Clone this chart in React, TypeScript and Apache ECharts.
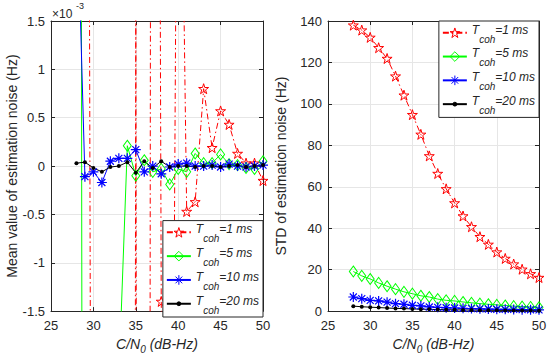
import React, { useEffect, useRef } from 'react';
import * as echarts from 'echarts';

// C/N0 (dB-Hz)
const cn0 = [28, 29, 30, 31, 32, 33, 34, 35, 36, 37, 38, 39, 40, 41, 42, 43, 44, 45, 46, 47, 48, 49, 50];

// Mean value of estimation noise, in units of 1e-3 Hz
const mean1ms = [25, 20, -14, -20, -18, -22, -60, 1.6, -60, 25, -1.4, -9.15, 6.1, -0.47, -0.37, 0.8, 0.19, 0.57, 0.43, 0.13, 0.03, 0.03, -0.15];
const mean5ms = [40, -25, -30, -28, -20, -2.2, 0.21, -0.1, 0.06, -0.06, -0.03, -0.19, -0.03, -0.06, 0.13, 0.03, 0.03, 0.12, 0.02, 0.01, -0.02, -0.03, 0.05];
const mean10ms = [3.0, -0.11, -0.06, -0.17, 0.05, 0.08, 0.08, 0.17, -0.06, 0.0, -0.08, -0.01, 0.02, 0.03, 0.0, 0.0, 0.01, -0.01, 0.02, 0.0, -0.01, 0.0, 0.01];
const mean20ms = [0.03, 0.04, -0.02, -0.06, -0.01, 0.0, 0.04, -0.07, 0.05, -0.02, 0.05, -0.01, 0.0, 0.0, -0.01, 0.0, 0.0, -0.01, 0.0, 0.01, -0.01, 0.0, 0.01];

// STD of estimation noise (Hz)
const std1ms = [138, 135.6, 132.1, 127.1, 121.9, 113.4, 104.2, 94.8, 85.3, 74.9, 66.4, 59.0, 52.2, 45.9, 40.7, 35.9, 32.2, 28.5, 25.4, 22.7, 20.2, 18.0, 16.2];
const std5ms = [19.1, 17.0, 15.5, 13.6, 12.0, 10.6, 9.3, 8.4, 7.4, 6.8, 5.8, 5.2, 4.9, 4.4, 4.0, 3.6, 3.3, 3.0, 2.7, 2.4, 2.2, 2.0, 1.8];
const std10ms = [6.8, 6.0, 5.2, 4.9, 4.3, 3.6, 3.3, 2.8, 2.5, 2.0, 1.8, 1.6, 1.5, 1.35, 1.2, 1.1, 1.0, 0.9, 0.85, 0.8, 0.7, 0.65, 0.6];
const std20ms = [2.4, 2.1, 1.9, 1.7, 1.5, 1.3, 1.2, 1.05, 0.95, 0.85, 0.75, 0.68, 0.6, 0.55, 0.5, 0.45, 0.4, 0.36, 0.33, 0.3, 0.27, 0.25, 0.22];

const seriesNames = ['1 ms', '5 ms', '10 ms', '20 ms'];

const FONT = '"Liberation Sans", Arial, sans-serif';
const AXIS_COLOR = '#262626';
const GRID_COLOR = '#e6e6e6';

const STAR = 'path://M0,-1L0.2245,-0.309L0.951,-0.309L0.363,0.118L0.588,0.809L0,0.382L-0.588,0.809L-0.363,0.118L-0.951,-0.309L-0.2245,-0.309Z';
const ASTER = 'path://M0,-1L0,1M-1,0L1,0M-0.7,-0.7L0.7,0.7M-0.7,0.7L0.7,-0.7';
const DOT = 'path://M0,-1A1,1,0,1,1,0,1A1,1,0,1,1,0,-1ZM-2.5,-2.5L-2.5,-2.5M2.5,2.5L2.5,2.5';

const styles = [
  {
    symbol: STAR, symbolSize: 10,
    lineStyle: { color: '#ff0000', width: 1, type: [6, 3, 1.5, 3] },
    itemStyle: { color: 'rgba(255,0,0,0)', borderColor: '#ff0000', borderWidth: 1 },
  },
  {
    symbol: 'diamond', symbolSize: [8, 11],
    lineStyle: { color: '#00ff00', width: 1, type: 'solid' },
    itemStyle: { color: 'rgba(0,255,0,0)', borderColor: '#00ff00', borderWidth: 1 },
  },
  {
    symbol: ASTER, symbolSize: 10,
    lineStyle: { color: '#0000ff', width: 1, type: 'solid' },
    itemStyle: { color: '#0000ff', borderColor: '#0000ff', borderWidth: 1.2 },
  },
  {
    symbol: DOT, symbolSize: 10,
    lineStyle: { color: '#000000', width: 1, type: 'solid' },
    itemStyle: { color: '#000000', borderColor: '#000000', borderWidth: 0 },
  },
];

function makeSeries(values: number[][], axisIndex: number) {
  return values.map((arr, k) => ({
    type: 'line',
    name: seriesNames[k],
    xAxisIndex: axisIndex,
    yAxisIndex: axisIndex,
    data: cn0.map((x, i) => [x, arr[i]]),
    clip: true,
    showSymbol: true,
    showAllSymbol: true,
    ...styles[k],
    emphasis: { disabled: true },
  }));
}

function xAxisDef(gridIndex: number, main: boolean) {
  return {
    type: 'value',
    gridIndex,
    position: main ? 'bottom' : 'top',
    min: 25,
    max: 50,
    interval: 5,
    axisLine: { show: true, onZero: false, lineStyle: { color: AXIS_COLOR, width: 1 } },
    axisTick: { show: true, inside: true, length: 4, lineStyle: { color: AXIS_COLOR } },
    axisLabel: {
      show: main, fontSize: 13, color: AXIS_COLOR, fontFamily: FONT, margin: 8,
      showMinLabel: true, showMaxLabel: true,
    },
    splitLine: { show: main, lineStyle: { color: GRID_COLOR, width: 1 } },
    name: main ? '{i|C/N}{sub|0}{i| (dB-Hz)}' : '',
    nameLocation: 'middle',
    nameGap: 20,
    nameTextStyle: {
      fontFamily: FONT, fontSize: 14, fontStyle: 'italic', color: AXIS_COLOR,
      rich: {
        i: { fontFamily: FONT, fontSize: 14, fontStyle: 'italic', color: AXIS_COLOR, verticalAlign: 'top' },
        sub: { fontFamily: FONT, fontSize: 10, fontStyle: 'italic', color: AXIS_COLOR, verticalAlign: 'top', padding: [7, 0, 0, 0] },
      },
    },
  };
}

function yAxisDef(gridIndex: number, main: boolean, min: number, max: number, interval: number, name: string, gap: number) {
  return {
    type: 'value',
    gridIndex,
    position: main ? 'left' : 'right',
    min,
    max,
    interval,
    axisLine: { show: true, onZero: false, lineStyle: { color: AXIS_COLOR, width: 1 } },
    axisTick: { show: true, inside: true, length: 4, lineStyle: { color: AXIS_COLOR } },
    axisLabel: {
      show: main, fontSize: 13, color: AXIS_COLOR, fontFamily: FONT, margin: 6,
      showMinLabel: true, showMaxLabel: true,
    },
    splitLine: { show: main, lineStyle: { color: GRID_COLOR, width: 1 } },
    name: main ? name : '',
    nameLocation: 'middle',
    nameGap: gap,
    nameTextStyle: { fontFamily: FONT, fontSize: 14, color: AXIS_COLOR },
  };
}

const legendBase = {
  orient: 'vertical',
  data: seriesNames,
  itemWidth: 24,
  itemHeight: 12,
  itemGap: 3.3,
  itemStyle: { borderWidth: 1 },
  backgroundColor: '#ffffff',
  borderColor: AXIS_COLOR,
  borderWidth: 1,
  borderRadius: 0,
  padding: [2.5, 4, 2, 3],
  selectedMode: false,
  formatter: (n: string) => `{t|T}{s|coh}{t|=${n}}`,
  textStyle: {
    fontFamily: FONT,
    color: AXIS_COLOR,
    rich: {
      t: { fontFamily: FONT, fontSize: 12, fontStyle: 'italic', color: AXIS_COLOR, verticalAlign: 'top', padding: [2, 0, 0, 0] },
      s: { fontFamily: FONT, fontSize: 10, fontStyle: 'italic', color: AXIS_COLOR, verticalAlign: 'top', padding: [12.5, 0, 0, 0] },
    },
  },
};

export default function App() {
  const ref = useRef<HTMLDivElement>(null);
  useEffect(() => {
    if (!ref.current) return;
    const chart = echarts.init(ref.current, null, { renderer: 'svg' });
    const option: any = {
      animation: false,
      backgroundColor: '#ffffff',
      grid: [
        { left: 51, top: 21, width: 212, height: 296, containLabel: false },
        { left: 328, top: 21, width: 211, height: 296, containLabel: false },
      ],
      xAxis: [xAxisDef(0, true), xAxisDef(0, false), xAxisDef(1, true), xAxisDef(1, false)],
      yAxis: [
        yAxisDef(0, true, -1.5, 1.5, 0.5, 'Mean value of estimation noise (Hz)', 24),
        yAxisDef(0, false, -1.5, 1.5, 0.5, '', 0),
        yAxisDef(1, true, 0, 140, 20, 'STD of estimation noise (Hz)', 40),
        yAxisDef(1, false, 0, 140, 20, '', 0),
      ],
      legend: [
        { ...legendBase, right: 287, bottom: 42 },
        { ...legendBase, right: 11, top: 21 },
      ],
      graphic: [
        { type: 'text', x: 52, y: 13.5, style: { text: '×10', fontSize: 12, fontFamily: FONT, fill: AXIS_COLOR, verticalAlign: 'middle' } },
        { type: 'text', x: 76, y: 6, style: { text: '-3', fontSize: 9, fontFamily: FONT, fill: AXIS_COLOR, verticalAlign: 'middle' } },
      ],
      series: [
        ...makeSeries([mean1ms, mean5ms, mean10ms, mean20ms], 0),
        ...makeSeries([std1ms, std5ms, std10ms, std20ms], 2),
      ],
    };
    chart.setOption(option);
    return () => chart.dispose();
  }, []);
  return <div ref={ref} style={{ position: 'fixed', left: 0, top: 0, width: 550, height: 359 }} />;
}
